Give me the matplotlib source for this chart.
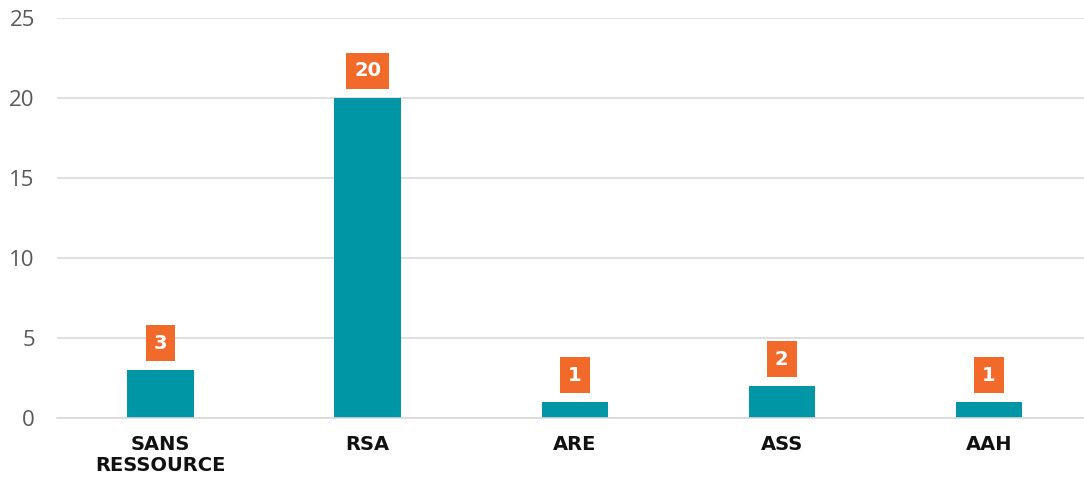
import matplotlib
matplotlib.use("Agg")
import matplotlib.pyplot as plt

categories = ["SANS\nRESSOURCE", "RSA", "ARE", "ASS", "AAH"]
values = [3, 20, 1, 2, 1]
y_ticks = [0, 5, 10, 15, 20, 25]

BAR_COLOR = "#0096a6"
LABEL_COLOR = "#f26a2a"
GRID_COLOR = "#d9d9d9"


def main():
    fig = plt.figure(figsize=(10.84, 4.84), dpi=100)
    ax = fig.add_axes([0.0526, 0.136, 0.955, 0.827])

    x = list(range(len(categories)))
    ax.bar(x, values, width=0.32, color=BAR_COLOR, zorder=2)

    # orange value boxes above each bar
    for xi, v in zip(x, values):
        ax.annotate(str(v), (xi, v), xytext=(0, 19.5), textcoords="offset points",
                    ha="center", va="center", color="white", fontsize=14,
                    fontweight="bold", family="DejaVu Sans", zorder=3,
                    bbox=dict(boxstyle="square,pad=0.42", fc=LABEL_COLOR, ec="none"))

    ax.set_xlim(-0.5, len(categories) - 0.5)
    ax.set_ylim(0, 25)
    ax.set_yticks(y_ticks)
    ax.set_xticks(x)
    ax.set_xticklabels(categories, fontsize=14, fontweight="bold",
                       family="DejaVu Sans", color="#111111", linespacing=1.15)
    ax.tick_params(axis="x", length=0, pad=12)
    ax.tick_params(axis="y", length=0, pad=16, labelsize=16, labelcolor="#595959")
    for lab in ax.get_yticklabels():
        lab.set_family("Open Sans")

    ax.grid(axis="y", color=GRID_COLOR, lw=1.2, zorder=0)
    ax.set_axisbelow(True)
    for side in ["top", "right", "left"]:
        ax.spines[side].set_visible(False)
    ax.spines["bottom"].set_color(GRID_COLOR)
    ax.spines["bottom"].set_linewidth(1.2)

    fig.savefig("out.png", dpi=100)


if __name__ == "__main__":
    main()
